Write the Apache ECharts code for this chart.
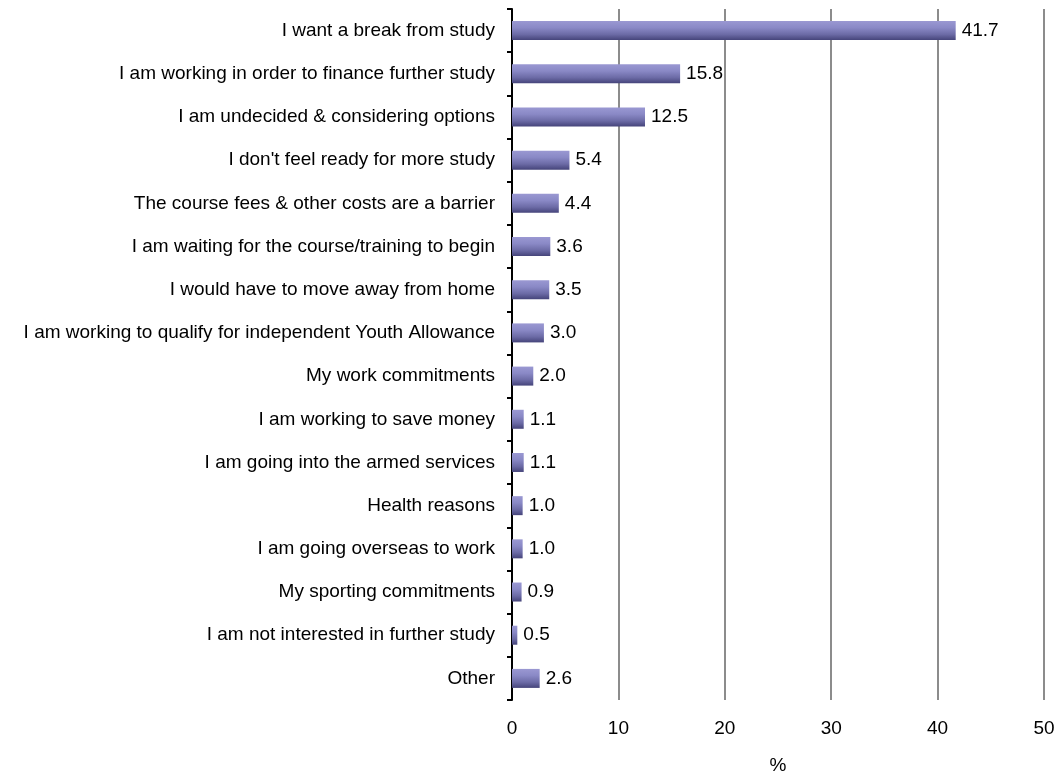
<!DOCTYPE html>
<html>
<head>
<meta charset="utf-8">
<script src="https://cdn.jsdelivr.net/npm/echarts@6/dist/echarts.min.js"></script>
<style>
  html, body { margin: 0; padding: 0; background: #fff; }
  #chart { width: 1061px; height: 780px; }
</style>
</head>
<body>
<div id="chart"></div>
<script>
// Reasons for deferring further study, share of respondents (%)
const categories = [
  "I want a break from study",
  "I am working in order to finance further study",
  "I am undecided & considering options",
  "I don't feel ready for more study",
  "The course fees & other costs are a barrier",
  "I am waiting for the course/training to begin",
  "I would have to move away from home",
  "I am working to qualify for independent Youth Allowance",
  "My work commitments",
  "I am working to save money",
  "I am going into the armed services",
  "Health reasons",
  "I am going overseas to work",
  "My sporting commitments",
  "I am not interested in further study",
  "Other"
];
const percentages = [41.7, 15.8, 12.5, 5.4, 4.4, 3.6, 3.5, 3.0, 2.0, 1.1, 1.1, 1.0, 1.0, 0.9, 0.5, 2.6];
const xTicks = { min: 0, max: 50, step: 10 };
const axisName = "%";

const FONT = "'Liberation Sans', Arial, sans-serif";
const chart = echarts.init(document.getElementById('chart'), null, { renderer: 'canvas' });

chart.setOption({
  animation: false,
  backgroundColor: '#ffffff',
  grid: { left: 512, right: 17, top: 9, bottom: 73, containLabel: false },
  xAxis: {
    type: 'value',
    min: xTicks.min,
    max: xTicks.max,
    interval: xTicks.step,
    name: axisName,
    nameLocation: 'middle',
    nameGap: 56,
    nameTextStyle: { fontFamily: FONT, fontSize: 19, color: '#000' },
    axisLine: { show: false },
    axisTick: { show: false },
    axisLabel: { fontFamily: FONT, fontSize: 19, color: '#000', margin: 19 },
    splitLine: { show: true, lineStyle: { color: '#8c8c8c', width: 2 } }
  },
  yAxis: {
    type: 'category',
    inverse: true,
    data: categories,
    axisLine: { show: true, lineStyle: { color: '#000', width: 2 } },
    axisTick: { show: true, inside: false, length: 5, lineStyle: { color: '#000', width: 2 } },
    axisLabel: { fontFamily: FONT, fontSize: 19, color: '#000', margin: 17 },
    splitLine: { show: false }
  },
  series: [{
    type: 'bar',
    data: percentages,
    barWidth: 19,
    itemStyle: {
      color: new echarts.graphic.LinearGradient(0, 0, 0, 1, [
        { offset: 0, color: '#9a98d2' },
        { offset: 0.35, color: '#8a89c6' },
        { offset: 0.7, color: '#6c6ba6' },
        { offset: 1, color: '#45447a' }
      ])
    },
    label: {
      show: true,
      position: 'right',
      distance: 6,
      fontFamily: FONT,
      fontSize: 19,
      color: '#000',
      formatter: p => p.value.toFixed(1)
    }
  }]
});
</script>
</body>
</html>
